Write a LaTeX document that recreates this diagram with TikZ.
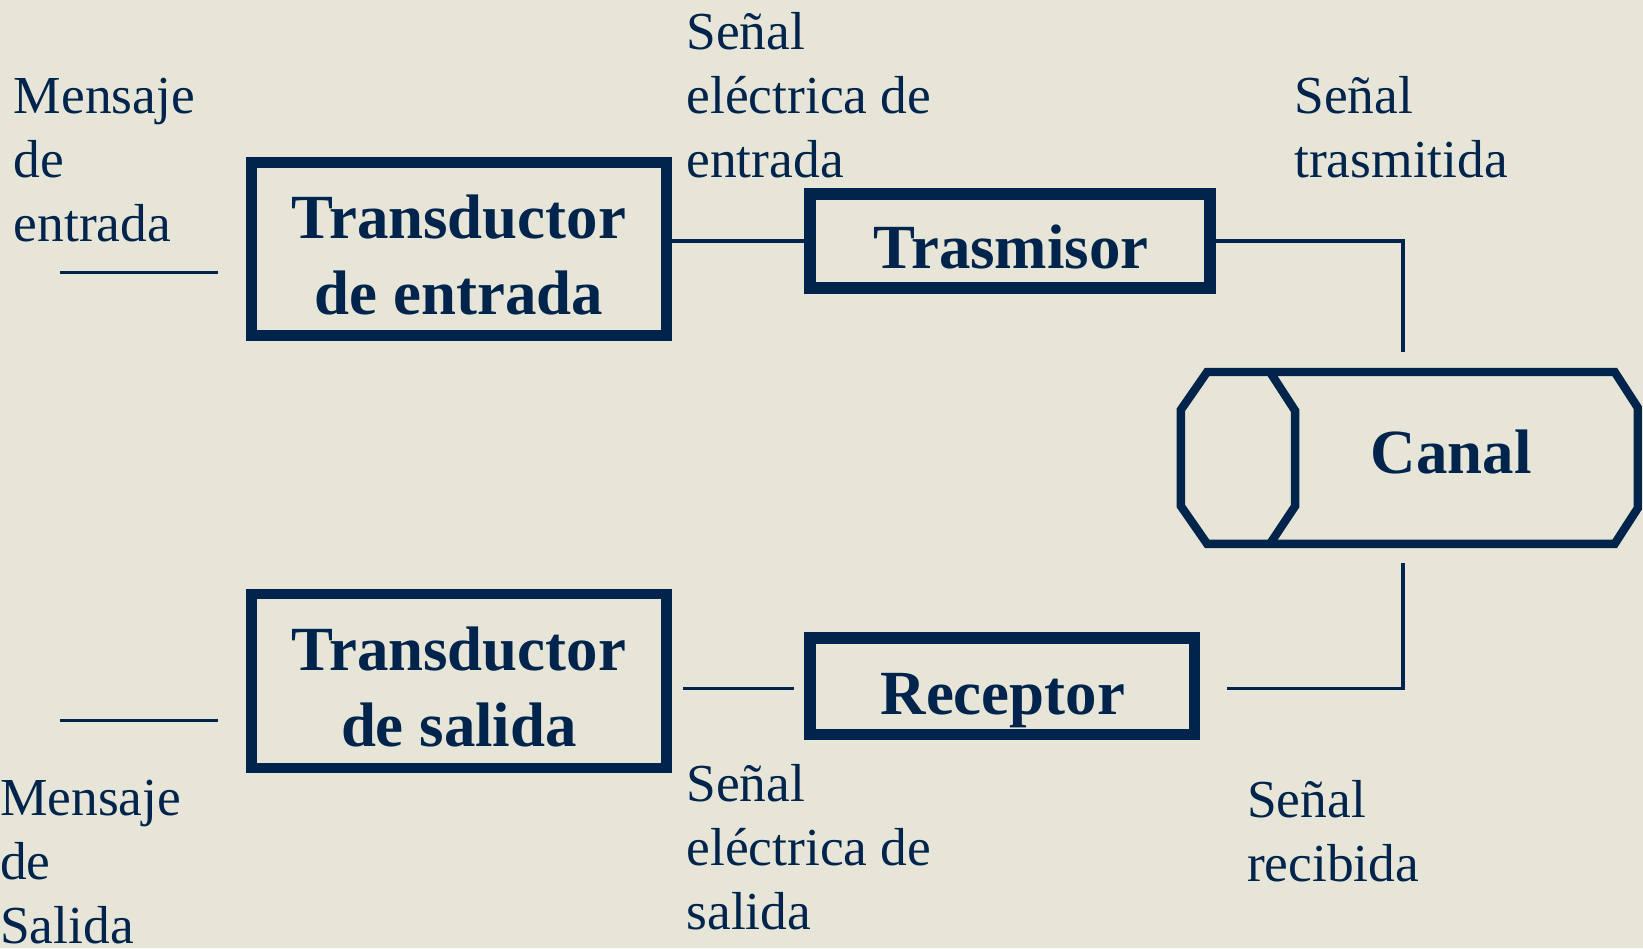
\documentclass[tikz,border=0pt]{standalone}
\usepackage{fontspec}
\setmainfont{Liberation Serif}
\definecolor{navy}{RGB}{0,36,75}
\definecolor{bg}{RGB}{231,229,215}
\begin{document}
\begin{tikzpicture}[x=1pt,y=-1pt,
  lbl/.style={anchor=base west, inner sep=0pt, align=left, text=navy, font=\fontsize{51}{61}\selectfont},
  blk/.style={draw=navy, line width=10pt, inner sep=0pt},
  blktxt/.style={anchor=base, inner sep=0pt, align=center, text=navy, font=\fontsize{60}{72}\selectfont\bfseries},
  wire/.style={draw=navy, line width=3pt}]
\fill[bg] (0,0) rectangle (1568,905);
\useasboundingbox (0,0) rectangle (1568,905);

% blocks
\node[blk, minimum width=396pt, minimum height=165pt] (te) at (438,237.5) {};
\node[blk, minimum width=382pt, minimum height=90pt, line width=11pt] (tr) at (964,230) {};
\node[blk, minimum width=396pt, minimum height=166pt] (ts) at (438,650) {};
\node[blk, minimum width=367pt, minimum height=92pt, line width=11pt] (rc) at (956.5,655) {};
\node[inner sep=0pt, outer sep=0pt, minimum width=436pt, minimum height=164pt] (cb) at (1345,437) {};

% (base anchor of a multi-line node = baseline of its last line)
\node[blktxt] (te-t) at (438,300) {Transductor\\de entrada};
\node[blktxt] (tr-t) at (965,256) {Trasmisor};
\node[blktxt] (ts-t) at (438,712) {Transductor\\de salida};
\node[blktxt] (rc-t) at (957,682) {Receptor};
\node[blktxt] (cb-t) at (1385,452) {Canal};

% canal outline
\draw[navy, line width=8pt, line join=miter]
  (1152,355) -- (1541,355) -- (1563,389) -- (1563,485) -- (1541,519)
  -- (1152,519) -- (1127,483) -- (1127,391) -- cycle;
\draw[navy, line width=8pt, line join=miter]
  (1212,355) -- (1236,392) -- (1236,483) -- (1212,519);

% free ends
\coordinate (in1) at (57,260);
\coordinate (in2) at (208,260);
\coordinate (out1) at (57,688);
\coordinate (out2) at (208,688);
\coordinate (ct) at (1339,336);
\coordinate (cbot) at (1339,537);

% connectors
\draw[wire] (in1) -- (in2);
\draw[wire] (te.east |- tr.west) -- (tr.west);
\draw[wire] (tr.east) -| (ct);
\draw[wire] (cbot) |- ([xshift=25pt,yshift=-2pt]rc.east);
\draw[wire] ([xshift=-10pt,yshift=-2pt]rc.west) -- ([xshift=11pt,yshift=-2pt]ts.east |- rc.west);
\draw[wire] (out1) -- (out2);

% labels
\node[lbl] (l1) at (13,230) {Mensaje\\de\\entrada};
\node[lbl] (l2) at (655,169) {Señal\\eléctrica de\\entrada};
\node[lbl] (l3) at (1235,169) {Señal\\trasmitida};
\node[lbl] (l4) at (0,900) {Mensaje\\de\\Salida};
\node[lbl] (l5) at (655,887) {Señal\\eléctrica de\\salida};
\node[lbl] (l6) at (1190,841) {Señal\\recibida};
\end{tikzpicture}
\end{document}
